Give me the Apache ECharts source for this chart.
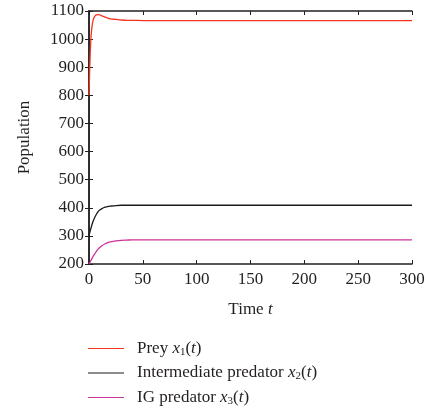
<!DOCTYPE html>
<html>
<head>
<meta charset="utf-8">
<script src="https://cdn.jsdelivr.net/npm/echarts@6/dist/echarts.min.js"></script>
<style>
  html, body { margin: 0; padding: 0; background: #fff; }
  #main { width: 431px; height: 415px; }
</style>
</head>
<body>
<div id="main"></div>
<script>
// time points and populations
var times = [0, 1, 2, 3, 4, 5, 6, 7, 8, 9, 10, 12, 15, 18, 20, 25, 30, 35, 40, 50, 60, 80, 100, 150, 200, 250, 300];
var prey = [800, 935, 1015, 1050, 1070, 1079, 1084, 1086, 1087, 1087, 1086, 1083, 1078, 1074, 1072, 1070, 1068, 1067, 1067, 1066, 1066, 1066, 1066, 1066, 1066, 1066, 1066];
var midPred = [300, 316, 330, 343, 354, 363, 371, 378, 384, 389, 392, 397, 402, 405, 406, 408, 409, 409, 409, 409, 409, 409, 409, 409, 409, 409, 409];
var igPred = [200, 207, 214, 221, 228, 234, 240, 246, 251, 255, 259, 265, 272, 277, 279, 282, 284, 285, 286, 286, 286, 286, 286, 286, 286, 286, 286];
var names = ['Prey', 'Intermediate predator', 'IG predator'];

function pairs(vals) {
  return times.map(function (t, i) { return [t, vals[i]]; });
}

var font = 'Liberation Serif';
var ink = '#231f20';

var chart = echarts.init(document.getElementById('main'));
var option = {
  backgroundColor: '#fff',
  animation: false,
  grid: { left: 89, right: 19, top: 11, bottom: 151 },
  legend: {
    orient: 'vertical',
    left: 83,
    top: 335,
    itemWidth: 36,
    itemHeight: 10,
    itemGap: 7,
    icon: 'path://M0,0L36,0L36,1.2L0,1.2Z',
    data: names,
    formatter: function (n) {
      var k = names.indexOf(n) + 1;
      return n + ' {i|x}{sub|' + k + '}({i|t})';
    },
    textStyle: {
      fontFamily: font, fontSize: 17, color: ink, padding: [0, 0, 0, 8],
      rich: {
        i: { fontFamily: font, fontStyle: 'italic', fontSize: 17, color: ink },
        sub: { fontFamily: font, fontSize: 11, color: ink, verticalAlign: 'bottom', padding: [7, 0, 0, 0] }
      }
    }
  },
  xAxis: [{
    type: 'value', min: 0, max: 300, interval: 50,
    name: 'Time {i|t}', nameLocation: 'middle', nameGap: 37,
    nameTextStyle: { fontFamily: font, fontSize: 17, color: ink, rich: { i: { fontFamily: font, fontStyle: 'italic', fontSize: 17, color: ink } } },
    axisLine: { lineStyle: { color: ink, width: 1.5 } },
    axisTick: { inside: true, length: 4, lineStyle: { color: ink } },
    axisLabel: { fontFamily: font, fontSize: 17, color: ink, margin: 7 },
    splitLine: { show: false }
  }, {
    type: 'value', min: 0, max: 300, interval: 50, position: 'top',
    axisLine: { show: true, lineStyle: { color: ink, width: 1.5 } },
    axisTick: { inside: true, length: 4, lineStyle: { color: ink } },
    axisLabel: { show: false },
    splitLine: { show: false }
  }],
  yAxis: [{
    type: 'value', min: 200, max: 1100, interval: 100,
    name: 'Population', nameLocation: 'middle', nameGap: 56,
    nameTextStyle: { fontFamily: font, fontSize: 17, color: ink },
    axisLine: { show: true, lineStyle: { color: ink, width: 1.5 } },
    axisTick: { inside: true, length: 4, lineStyle: { color: ink } },
    axisLabel: { fontFamily: font, fontSize: 17, color: ink, margin: 5, formatter: function (v) { return String(v); } },
    splitLine: { show: false }
  }, {
    type: 'value', min: 200, max: 1100, interval: 100, position: 'right',
    axisLine: { show: true, lineStyle: { color: ink, width: 1.5 } },
    axisTick: { inside: true, length: 4, lineStyle: { color: ink } },
    axisLabel: { show: false },
    splitLine: { show: false }
  }],
  series: [
    { name: names[0], type: 'line', data: pairs(prey), showSymbol: false, smooth: 0.3, color: '#f5341f', lineStyle: { width: 1.3 } },
    { name: names[1], type: 'line', data: pairs(midPred), showSymbol: false, smooth: 0.3, color: '#1a1a1a', lineStyle: { width: 1.3 } },
    { name: names[2], type: 'line', data: pairs(igPred), showSymbol: false, smooth: 0.3, color: '#cc3399', lineStyle: { width: 1.3 } }
  ]
};
chart.setOption(option);
</script>
</body>
</html>
